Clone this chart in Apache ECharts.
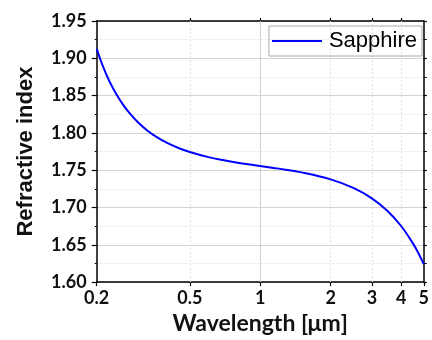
<!DOCTYPE html>
<html>
<head>
<meta charset="utf-8">
<script src="https://cdn.jsdelivr.net/npm/echarts@6/dist/echarts.min.js"></script>
<style>html,body{margin:0;padding:0;background:#fff}#c{width:432px;height:340px}</style>
</head>
<body>
<div id="c"></div>
<script>
const wavelength = [0.2,0.21,0.22,0.23,0.24,0.26,0.28,0.30,0.33,0.36,0.40,0.45,0.50,0.60,0.70,0.80,1.0,1.2,1.5,2.0,2.5,3.0,3.5,4.0,4.5,4.75,5.0];
const sapphireIndex = [1.9127,1.8937,1.8782,1.8653,1.8545,1.8373,1.8244,1.8144,1.8030,1.7947,1.7865,1.7794,1.7743,1.7675,1.7632,1.7601,1.7557,1.7521,1.7471,1.7377,1.7262,1.7122,1.6953,1.6752,1.6516,1.6383,1.6240];
const xTickLabels = [0.2,0.5,1,2,3,4,5];
const xTopTicks = [0.5,1,2,3,4];
const xMajorGrid = [1];
const xMinorGrid = [0.5,2,3,4];
const seriesName = 'Sapphire';

const chart = echarts.init(document.getElementById('c'), null, {renderer:'canvas'});
const tickFont = {fontFamily:'Lato', fontWeight:'bold', fontSize:18, color:'#111'};
const axisLine = {show:true, onZero:false, lineStyle:{color:'#000', width:1.5}};
const markData = xMajorGrid.map(v => ({xAxis:v, lineStyle:{color:'#cfcfcf', type:'solid', width:1}}))
  .concat(xMinorGrid.map(v => ({xAxis:v, lineStyle:{color:'#e2e2e2', type:[2,2], width:1}})));
chart.setOption({
  animation:false,
  grid:{left:96.7, right:7, top:21, bottom:53, containLabel:false},
  legend:{
    right:10, top:26, orient:'vertical',
    borderColor:'#aaaaaa', borderWidth:1, padding:[4,5,4,3],
    icon:'rect', itemWidth:50, itemHeight:2,
    textStyle:{fontFamily:'Liberation Sans', fontSize:22, color:'#000', padding:[0,0,0,2]},
    data:[seriesName]
  },
  xAxis:[{
    type:'log', logBase:10, min:0.2, max:5, position:'bottom',
    axisLine:axisLine,
    axisTick:{show:true, inside:false, length:4, customValues:xTickLabels, lineStyle:{color:'#000', width:1.2}},
    axisLabel:Object.assign({margin:7, customValues:xTickLabels, formatter:v => String(+(+v).toPrecision(3))}, tickFont),
    splitLine:{show:false}, minorTick:{show:false}, minorSplitLine:{show:false},
    name:'Wavelength [μm]', nameLocation:'middle', nameGap:29,
    nameTextStyle:{fontFamily:'Lato', fontWeight:'bold', fontSize:23, color:'#111'}
  },{
    type:'log', logBase:10, min:0.2, max:5, position:'top',
    axisLine:axisLine,
    axisTick:{show:true, inside:false, length:3, customValues:xTopTicks, lineStyle:{color:'#000', width:1.2}},
    axisLabel:{show:false}, splitLine:{show:false}
  }],
  yAxis:[{
    type:'value', min:1.60, max:1.95, interval:0.05, position:'left',
    axisLine:axisLine,
    axisTick:{show:true, inside:false, length:5, lineStyle:{color:'#000', width:1.2}},
    minorTick:{show:true, splitNumber:2, length:2, lineStyle:{color:'#000', width:1}},
    axisLabel:Object.assign({margin:10, formatter:v => (+v).toFixed(2)}, tickFont),
    splitLine:{show:true, lineStyle:{color:'#d3d3d3', width:1}},
    minorSplitLine:{show:true, lineStyle:{color:'#e4e4e4', width:1, type:[2,2]}},
    name:'Refractive index', nameLocation:'middle', nameGap:60, nameRotate:90,
    nameTextStyle:{fontFamily:'Liberation Sans', fontWeight:'bold', fontSize:22, color:'#111'}
  },{
    type:'value', min:1.60, max:1.95, interval:0.05, position:'right',
    axisLine:axisLine,
    axisTick:{show:true, inside:false, length:3, lineStyle:{color:'#000', width:1.2}},
    minorTick:{show:true, splitNumber:2, length:3, lineStyle:{color:'#000', width:1}},
    axisLabel:{show:false}, splitLine:{show:false}
  }],
  series:[{
    name:seriesName, type:'line', xAxisIndex:0, yAxisIndex:0,
    data:wavelength.map((w,i) => [w, sapphireIndex[i]]),
    smooth:0.4, symbol:'none', sampling:null,
    lineStyle:{color:'#0000ff', width:2}, itemStyle:{color:'#0000ff'},
    z:5,
    markLine:{silent:true, symbol:['none','none'], label:{show:false}, data:markData, z:1}
  }]
});
</script>
</body>
</html>
